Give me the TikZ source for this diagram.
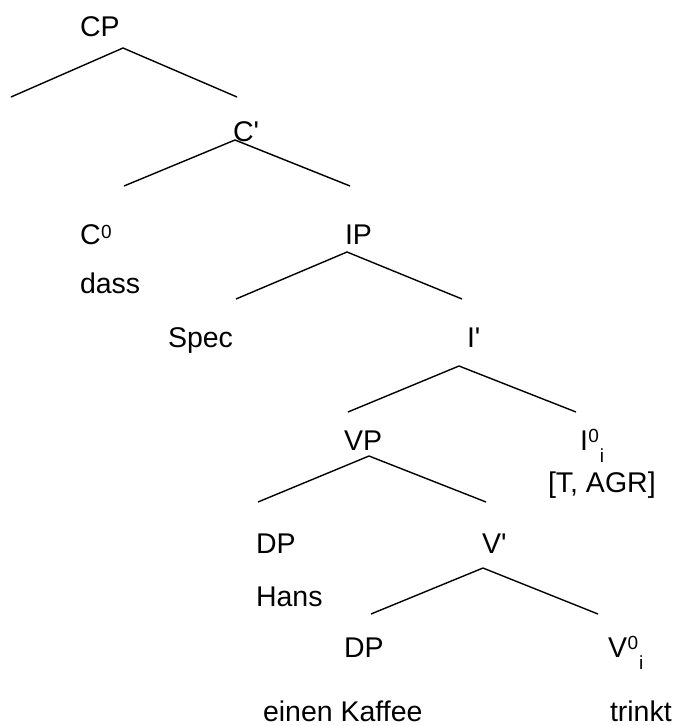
\documentclass[tikz,border=0pt]{standalone}
\usepackage{fontspec}
\setmainfont{Liberation Sans}
\newcommand{\supz}{\kern0.5pt\raisebox{6pt}{\fontsize{19}{19}\selectfont 0}}
\newcommand{\zi}{\kern0.5pt\raisebox{8pt}{\fontsize{19}{19}\selectfont 0}\kern1pt\raisebox{-12pt}{\fontsize{19}{19}\selectfont i}}
\newcommand{\apo}{\textquotesingle}
\begin{document}
\begin{tikzpicture}[x=1pt,y=-1pt,
  lab/.style={anchor=base west,inner sep=0pt,outer sep=0pt,font=\fontsize{28.5}{30}\selectfont},
  br/.style={line width=1.4pt}]
\useasboundingbox (0,0) rectangle (676,726);
% labels
\node[lab] (cp) at (80,36) {CP};
\node[lab] (cbar) at (233,141) {C\apo};
\node[lab] (c0) at (80,244) {C\supz};
\node[lab] (dass) at (80,293) {dass};
\node[lab] (ip) at (345,244) {IP};
\node[lab] (spec) at (168,347) {Spec};
\node[lab] (ibar) at (467,347) {I\apo};
\node[lab] (vp) at (344,450) {VP};
\node[lab] (i0) at (580,450) {I\zi};
\node[lab] (tagr) at (548,492) {[T, AGR]};
\node[lab] (dp1) at (256,553) {DP};
\node[lab] (vbar) at (482,553) {V\apo};
\node[lab] (hans) at (256,606) {Hans};
\node[lab] (dp2) at (344,657) {DP};
\node[lab] (v0) at (608,657) {V\zi};
\node[lab] (kaffee) at (263,721) {einen Kaffee};
\node[lab] (trinkt) at (610,721) {trinkt};
% branch points
\coordinate (a1) at (123,48);  \coordinate (l1) at (11,97);   \coordinate (r1) at (237,97);
\coordinate (a2) at (235,140); \coordinate (l2) at (124,186); \coordinate (r2) at (350,186);
\coordinate (a3) at (347,252); \coordinate (l3) at (236,299); \coordinate (r3) at (462,299);
\coordinate (a4) at (459,366); \coordinate (l4) at (348,412); \coordinate (r4) at (576,412);
\coordinate (a5) at (369,456); \coordinate (l5) at (258,502); \coordinate (r5) at (486,502);
\coordinate (a6) at (483,568); \coordinate (l6) at (371,614); \coordinate (r6) at (598,614);
\foreach \i in {1,...,6} {
  \draw[br] (l\i) -- (a\i) -- (r\i);
}
\end{tikzpicture}
\end{document}
